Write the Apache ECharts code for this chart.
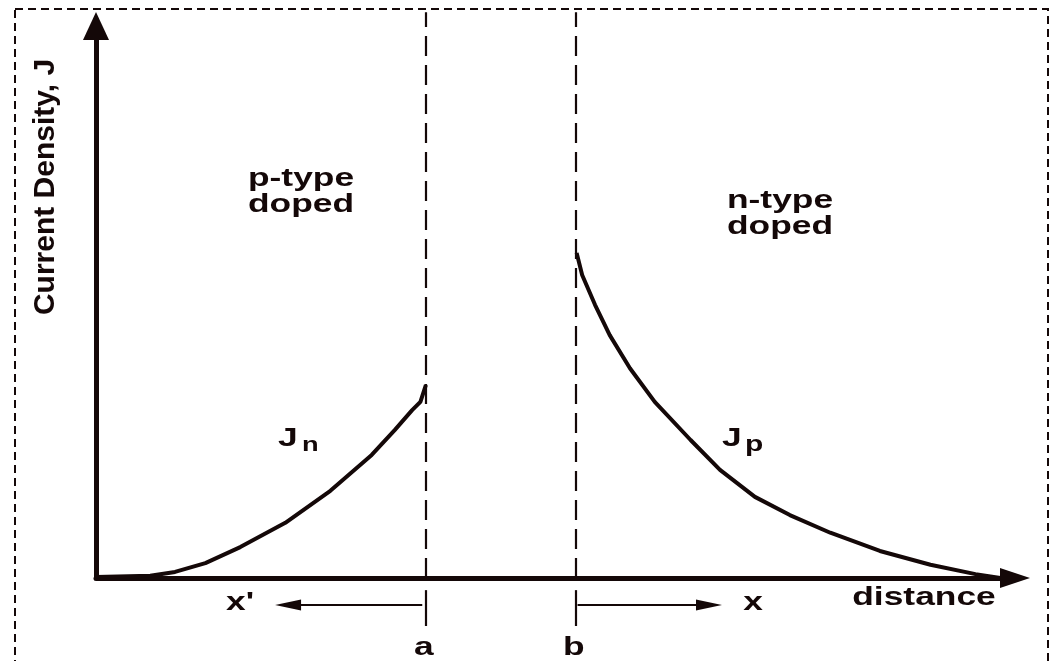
<!DOCTYPE html>
<html>
<head>
<meta charset="utf-8">
<script src="https://cdn.jsdelivr.net/npm/echarts@6/dist/echarts.min.js"></script>
<style>
html,body{margin:0;padding:0;background:#fff;}
#c{width:1051px;height:661px;}
</style>
</head>
<body>
<div id="c"></div>
<script>
// ---- data (axis units: distance 0..100, current density 0..100) ----
const jnX = [0, 5.9, 8.6, 11.9, 15.7, 20.6, 25.5, 30.0, 32.5, 34.4, 35.3, 35.9];
const jnY = [0.2, 0.4, 1.1, 2.7, 5.6, 10.0, 15.8, 22.3, 26.8, 30.4, 31.9, 35.0];
const jpX = [52.3, 52.9, 54.3, 55.9, 58.1, 60.8, 64.7, 67.9, 71.7, 75.5, 79.9, 85.3, 90.8, 95.7, 98.4];
const jpY = [58.9, 54.9, 49.5, 44.0, 38.0, 31.9, 25.0, 19.6, 14.7, 11.4, 8.2, 4.9, 2.4, 0.7, 0.0];
const boundaryX = [35.9, 52.2];          // junction edges a, b
const boundaryLabels = ['a', 'b'];
const yAxisRange = [-10, 102.5];
const yArrowEnd = 100;
const dashTop = 102.5;                   // top of dashed boundary lines
const tickBelow = [-2.2, -8.7];          // short marker below the axis
const arrowY = -4.9;
const xPrimeArrow = [35.5, 20.9];        // from a towards left
const xArrow = [52.4, 66.7];             // from b towards right
const regionLabels = [['p-type', 'doped'], ['n-type', 'doped']];
const curveLabels = [['J', 'n'], ['J', 'p']];
const axisNames = ['Current Density, J', 'distance'];
const dirLabels = ["x'", 'x'];

const C = '#140808';
const chart = echarts.init(document.getElementById('c'));

const boundaryLines = boundaryX.map(x => [{coord: [x, 0]}, {coord: [x, dashTop]}]);
const tickLines = boundaryX.map(x => [{coord: [x, tickBelow[0]]}, {coord: [x, tickBelow[1]]}]);

chart.setOption({
  animation: false,
  grid: {left: 96, right: 36, top: 12.2, bottom: 27.8},
  xAxis: {
    type: 'value', min: 0, max: 100,
    axisLine: {onZero: true, symbol: ['none', 'triangle'], symbolSize: [20, 30], lineStyle: {color: C, width: 5}},
    axisTick: {show: false}, axisLabel: {show: false}, splitLine: {show: false}
  },
  yAxis: {
    type: 'value', min: yAxisRange[0], max: yAxisRange[1],
    axisLine: {show: false},
    axisTick: {show: false}, axisLabel: {show: false}, splitLine: {show: false}
  },
  series: [
    {
      type: 'line', name: 'Jn', clip: false, silent: true,
      data: jnX.map((x, i) => [x, jnY[i]]),
      showSymbol: false, lineStyle: {color: C, width: 4}, itemStyle: {color: C},
      markLine: {
        silent: true, symbol: ['none', 'none'], label: {show: false},
        lineStyle: {color: C, width: 2.2, type: [20, 9]},
        emphasis: {disabled: true},
        data: boundaryLines
      }
    },
    {
      type: 'line', name: 'Jp', clip: false, silent: true,
      data: jpX.map((x, i) => [x, jpY[i]]),
      showSymbol: false, lineStyle: {color: C, width: 4}, itemStyle: {color: C},
      markLine: {
        silent: true, symbol: ['none', 'none'], label: {show: false},
        lineStyle: {color: C, width: 2.2, type: 'solid'},
        emphasis: {disabled: true},
        data: tickLines
      }
    },
    {
      type: 'line', name: 'arrows', clip: false, silent: true, data: [],
      markLine: {
        silent: true, symbol: ['none', 'triangle'], symbolSize: [11, 26], label: {show: false},
        lineStyle: {color: C, width: 2, type: 'solid'}, itemStyle: {color: C},
        emphasis: {disabled: true},
        data: [
          [{coord: [xPrimeArrow[0], arrowY]}, {coord: [xPrimeArrow[1], arrowY]}],
          [{coord: [xArrow[0], arrowY]}, {coord: [xArrow[1], arrowY]}]
        ]
      }
    },
    {
      type: 'line', name: 'yaxis', clip: false, silent: true, data: [],
      markLine: {
        silent: true, symbol: ['none', 'triangle'], symbolSize: [26, 28], label: {show: false},
        lineStyle: {color: C, width: 5, type: 'solid'}, itemStyle: {color: C},
        emphasis: {disabled: true},
        data: [[{coord: [0, 0]}, {coord: [0, yArrowEnd]}]]
      }
    }
  ]
});

const F = '"Liberation Sans", Arial, sans-serif';
const SX = 1.36;
function txt(text, x, y, size, align, vAlign, extra) {
  return Object.assign({
    type: 'text', x: x, y: y, scaleX: SX, silent: true,
    style: {text: text, x: 0, y: 0, fill: C, font: 'bold ' + size + 'px ' + F, align: align, verticalAlign: vAlign}
  }, extra || {});
}
const P = (x, y) => chart.convertToPixel({gridIndex: 0}, [x, y]);

const g = [];
g.push({type: 'rect', silent: true, shape: {x: 15, y: 9, width: 1033, height: 720},
  style: {fill: 'none', stroke: C, lineWidth: 2, lineDash: [8, 5]}});
// y-axis name (rotated)
g.push({type: 'text', x: 46, y: 187, rotation: Math.PI / 2, silent: true,
  style: {text: axisNames[0], x: 0, y: 0, fill: C, font: 'bold 30px ' + F, align: 'center', verticalAlign: 'middle'}});
// x-axis name
g.push(txt(axisNames[1], 924, 598, 26, 'center', 'middle'));
// region labels
g.push(txt(regionLabels[0].join('\n'), 248, 192, 26, 'left', 'middle'));
g.push(txt(regionLabels[1].join('\n'), 727, 214, 26, 'left', 'middle'));
// curve labels with subscripts
g.push(txt(curveLabels[0][0], 278, 439, 26, 'left', 'middle'));
g.push(txt(curveLabels[0][1], 302, 445, 20, 'left', 'middle'));
g.push(txt(curveLabels[1][0], 722, 439, 26, 'left', 'middle'));
g.push(txt(curveLabels[1][1], 745, 445, 22, 'left', 'middle'));
// direction labels
g.push(txt(dirLabels[0], 240, 603, 26, 'center', 'middle'));
g.push(txt(dirLabels[1], 753, 603, 26, 'center', 'middle'));
// boundary labels
boundaryX.forEach((x, i) => {
  const p = P(x, 0);
  g.push(txt(boundaryLabels[i], p[0] - 2, 648, 26, 'center', 'middle'));
});
chart.setOption({graphic: g});
</script>
</body>
</html>
